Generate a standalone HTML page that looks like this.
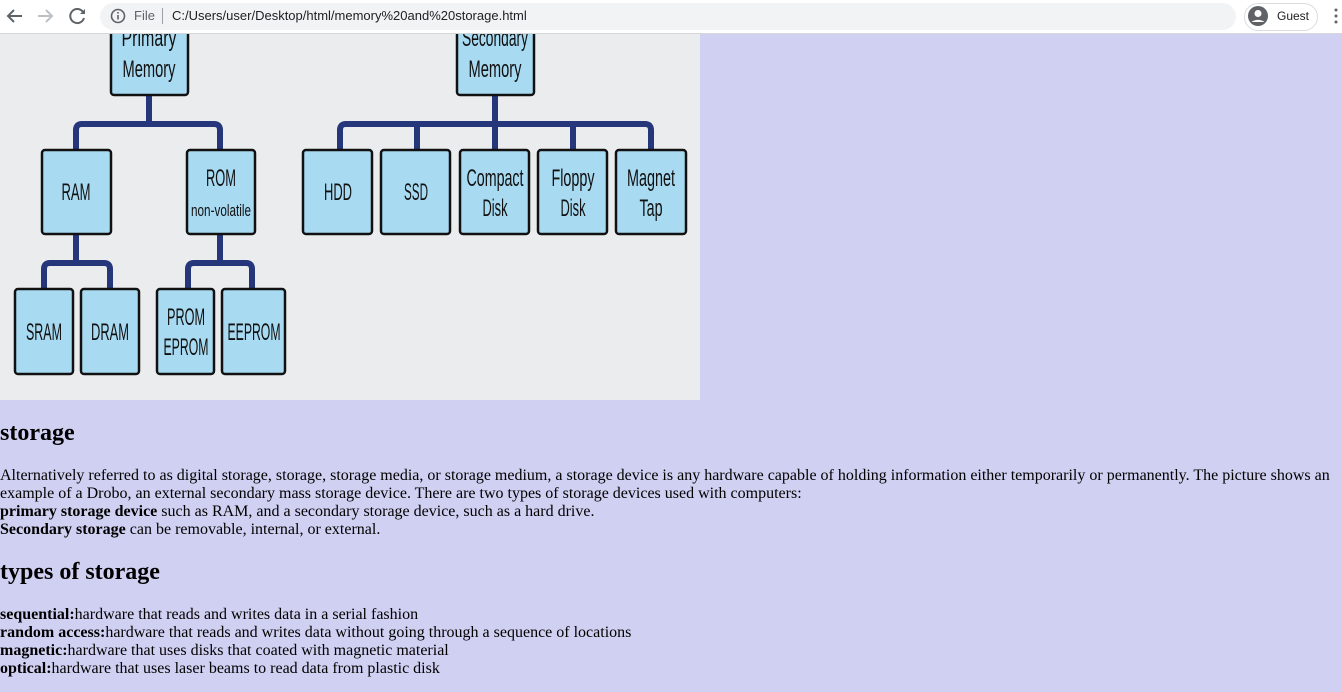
<!DOCTYPE html>
<html><head><meta charset="utf-8">
<style>
html,body{margin:0;padding:0;}
body{width:1342px;height:692px;overflow:hidden;background:#d0d0f2;font-family:"Liberation Serif",serif;position:relative;}
#bar{position:absolute;left:0;top:0;width:1342px;height:33px;background:#fff;border-bottom:1px solid #d6d6d6;font-family:"Liberation Sans",sans-serif;}
#pill{position:absolute;left:100px;top:3px;width:1136px;height:27px;background:#f1f3f4;border-radius:14px;}
.t{position:absolute;white-space:nowrap;}
#img{position:absolute;left:0;top:34px;width:700px;height:366px;background:#ebecee;overflow:hidden;}
h2{position:absolute;left:0;margin:0;font-size:24px;font-weight:bold;line-height:28px;}
.p{position:absolute;left:0;font-size:16px;line-height:18px;white-space:nowrap;}
</style></head><body>
<div id="bar">
 <svg width="100" height="33" style="position:absolute;left:0;top:0">
  <path d="M22 16H8M14 10l-6 6 6 6" stroke="#5f6368" stroke-width="2" fill="none"/>
  <path d="M38 16h14M46 10l6 6-6 6" stroke="#bdc1c6" stroke-width="2" fill="none"/>
  <path d="M83 12a7 7 0 1 0 1 6" stroke="#5f6368" stroke-width="2" fill="none"/><path d="M85 9v5h-5z" fill="#5f6368"/>
 </svg>
 <div id="pill"></div>
 <svg width="20" height="20" style="position:absolute;left:109px;top:6px"><circle cx="9" cy="10" r="6.5" stroke="#5f6368" stroke-width="1.6" fill="none"/><rect x="8.2" y="9" width="1.6" height="4.5" fill="#5f6368"/><rect x="8.2" y="6" width="1.6" height="1.6" fill="#5f6368"/></svg>
 <div class="t" style="left:134px;top:8px;font-size:13px;color:#5f6368">File</div>
 <div style="position:absolute;left:162px;top:8px;width:1px;height:16px;background:#9aa0a6"></div>
 <div class="t" style="left:172px;top:8px;font-size:13px;color:#202124">C:/Users/user/Desktop/html/memory%20and%20storage.html</div>
 <div style="position:absolute;left:1244px;top:3px;width:72px;height:26px;border:1px solid #dadce0;border-radius:14px;background:#fff"></div>
 <svg width="22" height="22" style="position:absolute;left:1247px;top:5px"><circle cx="11" cy="11" r="10" fill="#5f6368"/><circle cx="11" cy="8.5" r="3.5" fill="#fff"/><path d="M4.5 17a8 5 0 0 1 13 0" fill="#fff"/></svg>
 <div class="t" style="left:1277px;top:9px;font-size:12px;color:#202124">Guest</div>
 <svg width="6" height="16" style="position:absolute;left:1333px;top:8px"><circle cx="3" cy="2" r="1.5" fill="#5f6368"/><circle cx="3" cy="8" r="1.5" fill="#5f6368"/><circle cx="3" cy="14" r="1.5" fill="#5f6368"/></svg>
</div>
<div id="img">
<svg width="700" height="366" viewBox="0 34 700 366" font-family="'Liberation Sans',sans-serif" font-size="24" text-anchor="middle" fill="#111" lengthAdjust="spacingAndGlyphs">
 <g stroke="#26367a" stroke-width="6" fill="none">
  <path d="M149 95V124M76 150V130q0-6 6-6H214q6 0 6 6V150"/>
  <path d="M76 234V263M44 289V269q0-6 6-6H104q6 0 6 6V289"/>
  <path d="M220 234V263M188 289V269q0-6 6-6H246q6 0 6 6V289"/>
  <path d="M495 95V150M340 150V130q0-6 6-6H645q6 0 6 6V150M417 124V150M573 124V150"/>
 </g>
 <g stroke="#111" stroke-width="2.5" fill="#a8daf2">
  <rect x="111" y="20" width="77" height="75" rx="3"/>
  <rect x="457" y="20" width="77" height="75" rx="3"/>
  <rect x="42" y="150" width="69" height="84" rx="3"/>
  <rect x="187" y="150" width="68" height="84" rx="3"/>
  <rect x="303" y="150" width="69" height="84" rx="3"/>
  <rect x="381" y="150" width="69" height="84" rx="3"/>
  <rect x="460" y="150" width="69" height="84" rx="3"/>
  <rect x="538" y="150" width="69" height="84" rx="3"/>
  <rect x="616" y="150" width="70" height="84" rx="3"/>
  <rect x="15" y="289" width="58" height="85" rx="3"/>
  <rect x="81" y="289" width="58" height="85" rx="3"/>
  <rect x="157" y="289" width="57" height="85" rx="3"/>
  <rect x="222" y="289" width="63" height="85" rx="3"/>
 </g>
 <text x="149" y="46" textLength="55" lengthAdjust="spacingAndGlyphs">Primary</text><text x="149" y="77" textLength="53" lengthAdjust="spacingAndGlyphs">Memory</text>
 <text x="495" y="46" textLength="66" lengthAdjust="spacingAndGlyphs">Secondary</text><text x="495" y="77" textLength="53" lengthAdjust="spacingAndGlyphs">Memory</text>
 <text x="76" y="200" textLength="29" lengthAdjust="spacingAndGlyphs">RAM</text>
 <text x="221" y="186" textLength="30" lengthAdjust="spacingAndGlyphs">ROM</text><text x="221" y="216" font-size="17" textLength="60" lengthAdjust="spacingAndGlyphs">non-volatile</text>
 <text x="338" y="200" textLength="28" lengthAdjust="spacingAndGlyphs">HDD</text><text x="416" y="200" textLength="24" lengthAdjust="spacingAndGlyphs">SSD</text>
 <text x="495" y="186" textLength="57" lengthAdjust="spacingAndGlyphs">Compact</text><text x="495" y="216" textLength="25" lengthAdjust="spacingAndGlyphs">Disk</text>
 <text x="573" y="186" textLength="43" lengthAdjust="spacingAndGlyphs">Floppy</text><text x="573" y="216" textLength="25" lengthAdjust="spacingAndGlyphs">Disk</text>
 <text x="651" y="186" textLength="48" lengthAdjust="spacingAndGlyphs">Magnet</text><text x="651" y="216" textLength="23" lengthAdjust="spacingAndGlyphs">Tap</text>
 <text x="44" y="340" textLength="36" lengthAdjust="spacingAndGlyphs">SRAM</text><text x="110" y="340" textLength="38" lengthAdjust="spacingAndGlyphs">DRAM</text>
 <text x="186" y="325" textLength="38" lengthAdjust="spacingAndGlyphs">PROM</text><text x="186" y="355" textLength="45" lengthAdjust="spacingAndGlyphs">EPROM</text>
 <text x="254" y="340" textLength="53" lengthAdjust="spacingAndGlyphs">EEPROM</text>
</svg>
</div>
<h2 style="top:419px">storage</h2>
<div class="p" style="top:467px">Alternatively referred to as digital storage, storage, storage media, or storage medium, a storage device is any hardware capable of holding information either temporarily or permanently. The picture shows an<br>example of a Drobo, an external secondary mass storage device. There are two types of storage devices used with computers:<br><b>primary storage device</b> such as RAM, and a secondary storage device, such as a hard drive.<br><b>Secondary storage</b> can be removable, internal, or external.</div>
<h2 style="top:558px">types of storage</h2>
<div class="p" style="top:606px"><b>sequential:</b>hardware that reads and writes data in a serial fashion<br><b>random access:</b>hardware that reads and writes data without going through a sequence of locations<br><b>magnetic:</b>hardware that uses disks that coated with magnetic material<br><b>optical:</b>hardware that uses laser beams to read data from plastic disk</div>
</body></html>
